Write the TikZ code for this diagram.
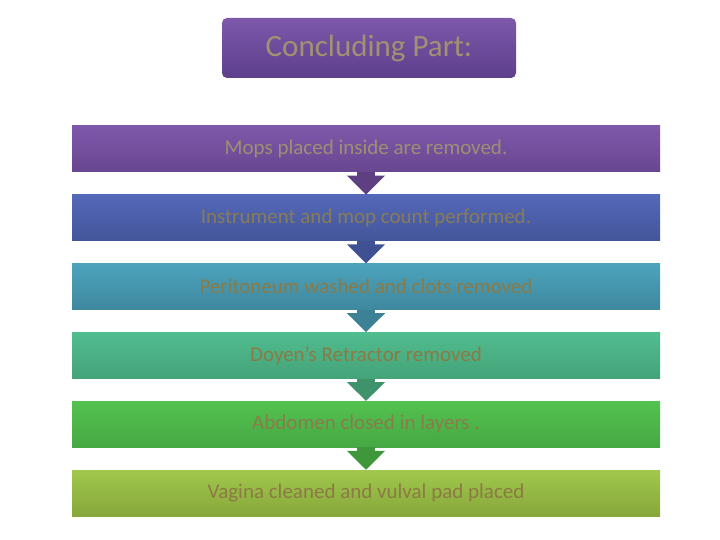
\documentclass[tikz,border=0pt]{standalone}
\usepackage{fontspec}
\setmainfont{Carlito}
\usepackage{tikz}
\usetikzlibrary{arrows.meta,positioning}
\definecolor{TitleTop}{HTML}{7D58AB}
\definecolor{TitleBot}{HTML}{5D3F8C}
\definecolor{Tan}{HTML}{A39171}
\definecolor{Olive}{HTML}{8C7A45}
\definecolor{PurpleTop}{HTML}{7E58AA}
\definecolor{PurpleBot}{HTML}{694690}
\definecolor{BlueTop}{HTML}{5468B8}
\definecolor{BlueBot}{HTML}{43559B}
\definecolor{TealTop}{HTML}{4CA3BC}
\definecolor{TealBot}{HTML}{3F889E}
\definecolor{MintTop}{HTML}{50BD8E}
\definecolor{MintBot}{HTML}{45A379}
\definecolor{GreenTop}{HTML}{53C24F}
\definecolor{GreenBot}{HTML}{46A843}
\definecolor{LimeTop}{HTML}{A1C84C}
\definecolor{LimeBot}{HTML}{86A73B}
\tikzset{
  bar/.style={minimum width=588pt,minimum height=46pt,inner sep=0pt,text=Olive,font=\fontsize{21}{25}\selectfont},
  barpurple/.style={bar,top color=PurpleTop,bottom color=PurpleBot,text=Tan!90!gray},
  barblue/.style={bar,top color=BlueTop,bottom color=BlueBot,text=Olive!70!gray},
  barteal/.style={bar,top color=TealTop,bottom color=TealBot},
  barmint/.style={bar,top color=MintTop,bottom color=MintBot},
  bargreen/.style={bar,top color=GreenTop,bottom color=GreenBot,text=Olive!90!gray},
  barlime/.style={bar,top color=LimeTop,bottom color=LimeBot},
  blockarrow/.style={-{Triangle[width=37pt,length=19pt]},line width=18pt}
}
\begin{document}
\begin{tikzpicture}[x=1pt,y=1pt,node distance=22.4pt]
\useasboundingbox (0,0) rectangle (720,-540);
\node[rounded corners=5pt,minimum width=294pt,minimum height=60pt,top color=TitleTop,bottom color=TitleBot,text=Tan,font=\fontsize{31}{36}\selectfont] (title) at (369,-48) {Concluding Part:};
\node[barpurple] (b1) at (366,-149) {Mops placed inside are removed.};
\node[barblue,below=of b1] (b2) {Instrument and mop count performed.};
\node[barteal,below=of b2] (b3) {Peritoneum washed and clots removed};
\node[barmint,below=of b3] (b4) {Doyen’s Retractor removed};
\node[bargreen,below=of b4] (b5) {Abdomen closed in layers .};
\node[barlime,below=of b5] (b6) {Vagina cleaned and vulval pad placed};
\draw[blockarrow,draw=PurpleBot!90!black] (b1.south)--(b2.north);
\draw[blockarrow,draw=BlueBot!95!black] (b2.south)--(b3.north);
\draw[blockarrow,draw=TealBot!95!black] (b3.south)--(b4.north);
\draw[blockarrow,draw=MintBot!90!black] (b4.south)--(b5.north);
\draw[blockarrow,draw=GreenBot!90!black] (b5.south)--(b6.north);
\end{tikzpicture}
\end{document}
